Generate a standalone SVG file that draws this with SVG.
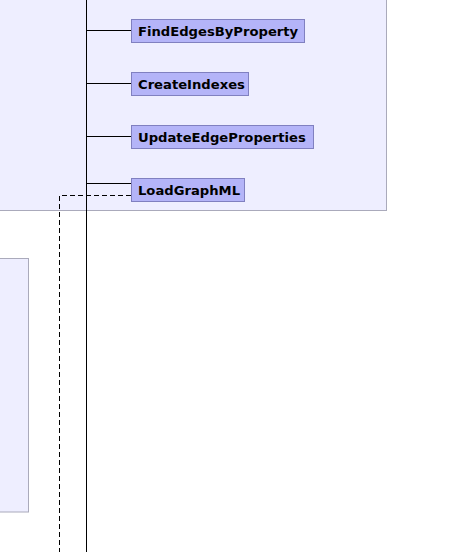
<svg xmlns="http://www.w3.org/2000/svg" width="462" height="552" viewBox="0 0 462 552">
<style>
.cont{fill:#eeeeff;stroke:#aaaabb;stroke-width:1}
.node rect{fill:#b4b4f8;stroke:#8080c0;stroke-width:1}
.node text{font-family:"DejaVu Sans",sans-serif;font-weight:bold;font-size:13.15px;fill:#000}
.edge{stroke:#000;stroke-width:1;fill:none}
.dash{stroke:#000;stroke-width:1;fill:none;stroke-dasharray:5,3}
</style>
<rect class="cont" x="-10" y="-10" width="396.5" height="220.5"/>
<rect class="cont" x="-10" y="258.5" width="38.5" height="253.5"/>
<g id="connectors">
<line class="edge" x1="86.5" y1="0" x2="86.5" y2="552"/>
<line class="edge" x1="86.5" y1="30.5" x2="131" y2="30.5"/>
<line class="edge" x1="86.5" y1="83.5" x2="131" y2="83.5"/>
<line class="edge" x1="86.5" y1="136.5" x2="131" y2="136.5"/>
<line class="edge" x1="86.5" y1="183.5" x2="131" y2="183.5"/>
<polyline class="dash" points="131,195.5 59.5,195.5 59.5,552"/>
</g>
<g id="FindEdgesByProperty" class="node"><rect x="131.5" y="19.5" width="173" height="23"/><text x="138" y="35.5">FindEdgesByProperty</text></g>
<g id="CreateIndexes" class="node"><rect x="131.5" y="72.5" width="117" height="23"/><text x="138" y="88.5">CreateIndexes</text></g>
<g id="UpdateEdgeProperties" class="node"><rect x="131.5" y="125.5" width="182" height="23"/><text x="138" y="141.5">UpdateEdgeProperties</text></g>
<g id="LoadGraphML" class="node"><rect x="131.5" y="178.5" width="113" height="23"/><text x="138" y="194.5">LoadGraphML</text></g>
</svg>
